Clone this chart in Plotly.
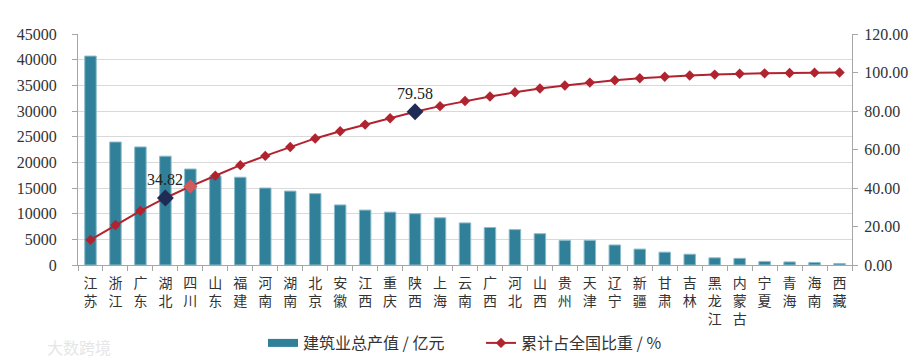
import plotly.graph_objects as go

provinces = ["江苏", "浙江", "广东", "湖北", "四川", "山东", "福建", "河南", "湖南", "北京",
             "安徽", "江西", "重庆", "陕西", "上海", "云南", "广西", "河北", "山西", "贵州",
             "天津", "辽宁", "新疆", "甘肃", "吉林", "黑龙江", "内蒙古", "宁夏", "青海", "海南", "西藏"]
output_value = [40700, 23960, 23000, 21200, 18700, 17300, 17100, 15000, 14400, 13900,
                11700, 10700, 10300, 10000, 9200, 8200, 7300, 6900, 6100, 4800,
                4800, 3900, 3100, 2500, 2100, 1400, 1300, 700, 600, 500, 300]
cum_share = [13.06, 20.75, 28.13, 34.82, 40.82, 46.37, 51.86, 56.67, 61.29, 65.75,
             69.50, 72.93, 76.24, 79.58, 82.53, 85.16, 87.50, 89.71, 91.67, 93.21,
             94.75, 96.00, 96.99, 97.79, 98.47, 98.92, 99.34, 99.56, 99.75, 99.91, 100.00]
highlight_idx = [3, 13]
left_ticks = [0, 5000, 10000, 15000, 20000, 25000, 30000, 35000, 40000, 45000]
right_ticks = [0, 20, 40, 60, 80, 100, 120]

tick_text = ["<br>".join(list(p)) for p in provinces]

serif = "Liberation Serif, Times New Roman, serif"
cjk = "Noto Sans CJK SC, sans-serif"
bar_color = "#31809a"
line_color = "#b1232f"

W, H = 916, 356  # page body has an 8px margin

fig = go.Figure()
fig.add_trace(go.Bar(
    x=provinces, y=output_value, name="建筑业总产值 / 亿元", showlegend=False,
    marker=dict(color=bar_color, line=dict(color="#8cbccb", width=1)),
    width=0.46, yaxis="y",
))
# legend proxy for the bar series (wide swatch)
fig.add_trace(go.Scatter(
    x=[None], y=[None], name="建筑业总产值 / 亿元", mode="lines",
    line=dict(color=bar_color, width=8), yaxis="y",
))
fig.add_trace(go.Scatter(
    x=provinces, y=cum_share, name="累计占全国比重 / %", mode="lines+markers",
    line=dict(color=line_color, width=2),
    marker=dict(symbol="diamond", size=8, color=line_color),
    yaxis="y2",
))
fig.add_trace(go.Scatter(
    x=[provinces[4]], y=[cum_share[4]], mode="markers", showlegend=False,
    marker=dict(symbol="diamond", size=11, color="#d05a5e"), yaxis="y2", hoverinfo="skip",
))
fig.add_trace(go.Scatter(
    x=[provinces[i] for i in highlight_idx], y=[cum_share[i] for i in highlight_idx],
    mode="markers", showlegend=False,
    marker=dict(symbol="diamond", size=13, color="#1f2a55"), yaxis="y2",
))

annotations = [dict(x=provinces[i], y=cum_share[i], xref="x", yref="y2",
                    text=f"{cum_share[i]:.2f}", showarrow=False, yshift=18,
                    font=dict(family=serif, size=16, color="#222"))
               for i in highlight_idx]
annotations.append(dict(text="大数跨境", xref="paper", yref="paper", x=-0.043, y=-0.355,
                        xanchor="left", yanchor="middle", showarrow=False,
                        font=dict(family=cjk, size=16, color="#e6e6e6")))

fig.update_layout(
    width=W, height=H,
    margin=dict(l=70, r=72, t=26, b=99, autoexpand=False),
    plot_bgcolor="white", paper_bgcolor="white",
    showlegend=True,
    legend=dict(orientation="h", xref="container", yref="container",
                x=255 / W, xanchor="left", y=1 - 335 / H, yanchor="middle",
                font=dict(family=cjk, size=16, color="#333"), itemwidth=30,
                traceorder="normal", entrywidthmode="pixels", entrywidth=173),
    xaxis=dict(
        range=[-0.5, len(provinces) - 0.5],
        tickmode="array", tickvals=provinces, ticktext=tick_text, tickangle=0,
        tickfont=dict(family=cjk, size=14, color="#333"), automargin=False,
        ticklabelstandoff=5,
        showline=True, linecolor="#a6a6a6", linewidth=1,
        ticks="outside", tickson="boundaries", ticklen=5, tickcolor="#a6a6a6",
        showgrid=False,
    ),
    yaxis=dict(
        range=[0, 45000], tickvals=left_ticks, ticktext=[str(v) for v in left_ticks],
        tickfont=dict(family=serif, size=16, color="#333"), automargin=False,
        ticklabelstandoff=12,
        showline=True, linecolor="#a6a6a6", ticks="outside", ticklen=5, tickcolor="#a6a6a6",
        showgrid=True, gridcolor="#d9d9d9", zeroline=False,
    ),
    yaxis2=dict(
        range=[0, 120], tickvals=right_ticks, ticktext=[f"{v:.2f}" for v in right_ticks],
        overlaying="y", side="right", automargin=False,
        tickfont=dict(family=serif, size=16, color="#333"), ticklabelstandoff=3,
        showline=True, linecolor="#a6a6a6", ticks="outside", ticklen=5, tickcolor="#a6a6a6",
        showgrid=False, zeroline=False,
    ),
    annotations=annotations,
)

fig.write_html("out.html")
